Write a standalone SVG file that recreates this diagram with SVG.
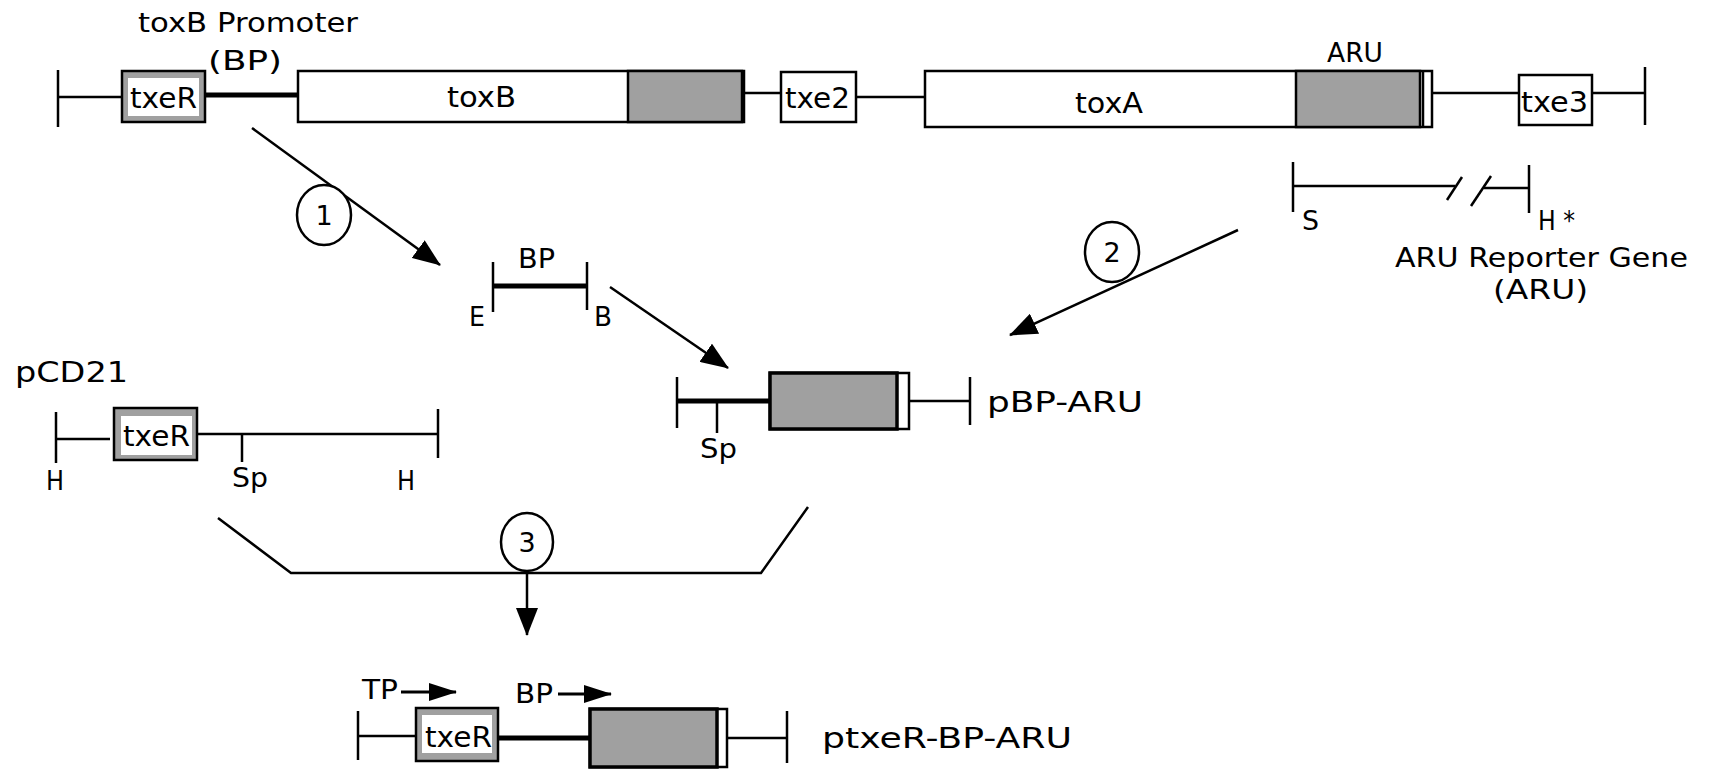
<svg xmlns="http://www.w3.org/2000/svg" width="1710" height="769" viewBox="0 0 1710 769">
<style>
text{font-family:"DejaVu Sans","Liberation Sans",sans-serif;font-size:28px;fill:#000}
.ln{stroke:#000;stroke-width:2.5;fill:none}
.thick{stroke:#000;stroke-width:5;fill:none}
.box{fill:#fff;stroke:#000;stroke-width:2.5}
.gray{fill:#a0a0a0;stroke:#000;stroke-width:2.5}
.grayk{fill:#a0a0a0;stroke:#000;stroke-width:3.5}
.inner{fill:#fff;stroke:none}
.circ{fill:#fff;stroke:#000;stroke-width:2.5}
.sm{font-size:27px}
.bx{font-size:29px}
.hd{font-size:26px}
</style>
<defs>
<marker id="ah" markerUnits="userSpaceOnUse" viewBox="0 0 28 22" markerWidth="28" markerHeight="22" refX="27" refY="11" orient="auto"><path d="M0,0 L28,11 L0,22 z" fill="#000"/></marker>
<marker id="ahs" markerUnits="userSpaceOnUse" viewBox="0 0 28 18" markerWidth="28" markerHeight="18" refX="27" refY="9" orient="auto"><path d="M0,0 L28,9 L0,18 z" fill="#000"/></marker>
</defs>
<rect width="1710" height="769" fill="#fff"/>

<g id="top-operon">
<line class="ln" x1="58" y1="70" x2="58" y2="127"/>
<line class="ln" x1="58" y1="97" x2="122" y2="97"/>
<rect class="gray" x="122" y="71" width="83" height="51"/>
<rect class="inner" x="128" y="78" width="71" height="38"/>
<text class="bx" x="130" y="108" textLength="67" lengthAdjust="spacingAndGlyphs">txeR</text>
<line class="thick" x1="205" y1="95" x2="298" y2="95"/>
<text class="hd" x="138" y="32" textLength="220" lengthAdjust="spacingAndGlyphs">toxB Promoter</text>
<text class="hd" x="208" y="70" textLength="74" lengthAdjust="spacingAndGlyphs">(BP)</text>
<rect class="box" x="298" y="71" width="446" height="51"/>
<rect class="gray" x="628" y="71" width="114" height="51"/>
<line class="ln" x1="743" y1="71" x2="743" y2="122"/>
<text x="447" y="107" textLength="69" lengthAdjust="spacingAndGlyphs">toxB</text>
<line class="ln" x1="744" y1="93" x2="781" y2="93"/>
<rect class="box" x="781" y="72" width="75" height="50"/>
<text class="bx" x="785" y="108" textLength="65" lengthAdjust="spacingAndGlyphs">txe2</text>
<line class="ln" x1="856" y1="97" x2="925" y2="97"/>
<rect class="box" x="925" y="71" width="507" height="56"/>
<rect class="gray" x="1296" y="71" width="124" height="56"/>
<line class="ln" x1="1423" y1="71" x2="1423" y2="127"/>
<text x="1075" y="113" textLength="68" lengthAdjust="spacingAndGlyphs">toxA</text>
<text class="sm" x="1327" y="62" textLength="56" lengthAdjust="spacingAndGlyphs">ARU</text>
<line class="ln" x1="1432" y1="93" x2="1519" y2="93"/>
<rect class="box" x="1519" y="75" width="73" height="50"/>
<text class="bx" x="1521" y="112" textLength="67" lengthAdjust="spacingAndGlyphs">txe3</text>
<line class="ln" x1="1592" y1="93" x2="1645" y2="93"/>
<line class="ln" x1="1645" y1="67" x2="1645" y2="125"/>
</g>

<g id="aru-reporter">
<line class="ln" x1="1293" y1="162" x2="1293" y2="212"/>
<line class="ln" x1="1293" y1="186" x2="1455" y2="186"/>
<line class="ln" x1="1447" y1="200" x2="1462" y2="177"/>
<line class="ln" x1="1471" y1="206" x2="1491" y2="176"/>
<line class="ln" x1="1484" y1="188" x2="1529" y2="188"/>
<line class="ln" x1="1529" y1="165" x2="1529" y2="213"/>
<text class="sm" x="1302" y="230" textLength="17" lengthAdjust="spacingAndGlyphs">S</text>
<text class="sm" x="1538" y="230" textLength="37" lengthAdjust="spacingAndGlyphs">H *</text>
<text class="sm" x="1395" y="267" textLength="293" lengthAdjust="spacingAndGlyphs">ARU Reporter Gene</text>
<text class="sm" x="1493" y="299" textLength="95" lengthAdjust="spacingAndGlyphs">(ARU)</text>
</g>

<g id="bp-fragment">
<line class="ln" x1="493" y1="262" x2="493" y2="312"/>
<line class="ln" x1="587" y1="262" x2="587" y2="310"/>
<line class="thick" x1="493" y1="286" x2="587" y2="286"/>
<text class="sm" x="518" y="268" textLength="37" lengthAdjust="spacingAndGlyphs">BP</text>
<text class="sm" x="469" y="326" textLength="16" lengthAdjust="spacingAndGlyphs">E</text>
<text class="sm" x="594" y="326" textLength="18" lengthAdjust="spacingAndGlyphs">B</text>
</g>

<g id="pBP-ARU">
<line class="ln" x1="677" y1="377" x2="677" y2="428"/>
<line class="thick" x1="677" y1="401" x2="770" y2="401"/>
<line class="ln" x1="717" y1="401" x2="717" y2="433"/>
<rect class="box" x="770" y="373" width="139" height="56"/>
<rect class="grayk" x="770" y="373" width="127" height="56"/>
<line class="ln" x1="909" y1="401" x2="970" y2="401"/>
<line class="ln" x1="970" y1="377" x2="970" y2="425"/>
<text x="987" y="412" textLength="156" lengthAdjust="spacingAndGlyphs">pBP-ARU</text>
<text class="sm" x="700" y="458" textLength="37" lengthAdjust="spacingAndGlyphs">Sp</text>
</g>

<g id="pCD21">
<text x="15" y="382" textLength="113" lengthAdjust="spacingAndGlyphs">pCD21</text>
<line class="ln" x1="56" y1="412" x2="56" y2="463"/>
<line class="ln" x1="56" y1="439" x2="110" y2="439"/>
<rect class="gray" x="114" y="408" width="83" height="52"/>
<rect class="inner" x="121" y="416" width="71" height="39"/>
<text class="bx" x="123" y="446" textLength="67" lengthAdjust="spacingAndGlyphs">txeR</text>
<line class="ln" x1="197" y1="434" x2="438" y2="434"/>
<line class="ln" x1="242" y1="434" x2="242" y2="462"/>
<line class="ln" x1="438" y1="409" x2="438" y2="458"/>
<text class="sm" x="46" y="490" textLength="18" lengthAdjust="spacingAndGlyphs">H</text>
<text class="sm" x="232" y="487" textLength="36" lengthAdjust="spacingAndGlyphs">Sp</text>
<text class="sm" x="397" y="490" textLength="18" lengthAdjust="spacingAndGlyphs">H</text>
</g>

<g id="ptxeR-BP-ARU">
<line class="ln" x1="358" y1="711" x2="358" y2="760"/>
<line class="ln" x1="358" y1="736" x2="416" y2="736"/>
<rect class="gray" x="416" y="708" width="82" height="53"/>
<rect class="inner" x="422" y="715" width="70" height="38"/>
<text class="bx" x="425" y="747" textLength="67" lengthAdjust="spacingAndGlyphs">txeR</text>
<line class="thick" x1="498" y1="738" x2="590" y2="738"/>
<rect class="box" x="590" y="709" width="137" height="58"/>
<rect class="grayk" x="590" y="709" width="127" height="58"/>
<line class="ln" x1="727" y1="738" x2="787" y2="738"/>
<line class="ln" x1="787" y1="711" x2="787" y2="763"/>
<text x="822" y="748" textLength="250" lengthAdjust="spacingAndGlyphs">ptxeR-BP-ARU</text>
<text class="sm" x="362" y="699" textLength="36" lengthAdjust="spacingAndGlyphs">TP</text>
<text class="sm" x="515" y="703" textLength="38" lengthAdjust="spacingAndGlyphs">BP</text>
</g>

<g id="connectors">
<line class="ln" x1="252" y1="128" x2="440" y2="265" marker-end="url(#ah)"/>
<line class="ln" x1="610" y1="287" x2="728" y2="368" marker-end="url(#ah)"/>
<line class="ln" x1="1238" y1="230" x2="1010" y2="335" marker-end="url(#ah)"/>
<polyline class="ln" points="218,518 291,573 761,573 808,507"/>
<line class="ln" x1="527" y1="571" x2="527" y2="635" marker-end="url(#ah)"/>
<line x1="401" y1="692" x2="456" y2="692" stroke="#000" stroke-width="3" marker-end="url(#ahs)"/>
<line x1="558" y1="694" x2="611" y2="694" stroke="#000" stroke-width="3" marker-end="url(#ahs)"/>
</g>

<g id="step1">
<ellipse class="circ" cx="324" cy="215" rx="27" ry="30"/>
<text class="sm" x="324" y="225" text-anchor="middle">1</text>
</g>
<g id="step2">
<ellipse class="circ" cx="1112" cy="252" rx="27" ry="30"/>
<text class="sm" x="1112" y="262" text-anchor="middle">2</text>
</g>
<g id="step3">
<ellipse class="circ" cx="527" cy="542" rx="26" ry="29"/>
<text class="sm" x="527" y="552" text-anchor="middle">3</text>
</g>
</svg>
